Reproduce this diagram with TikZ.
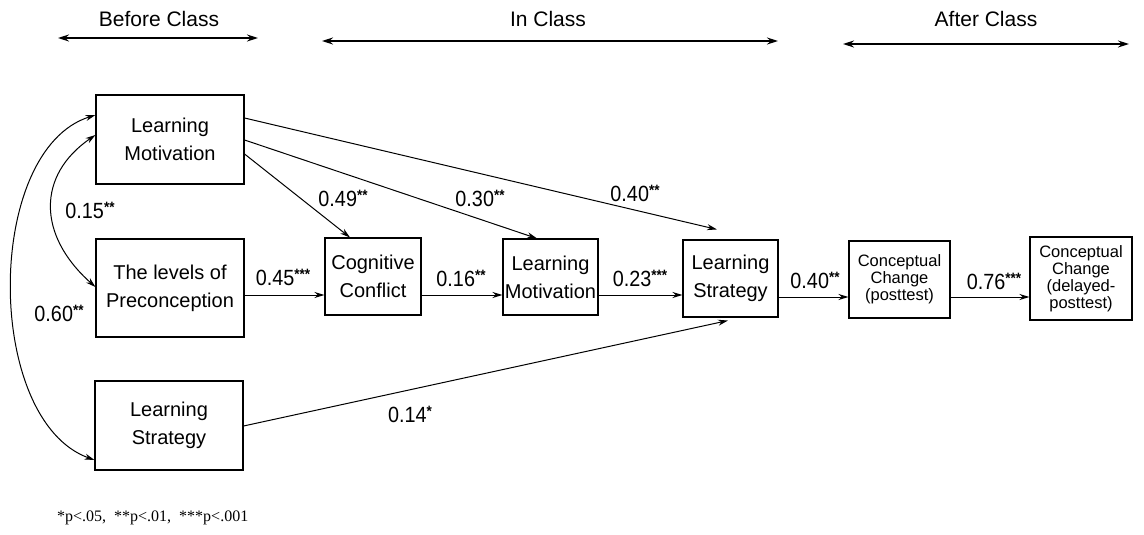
\documentclass[tikz,border=0pt]{standalone}
\usepackage{fontspec}
\setmainfont{Liberation Sans}
\newfontfamily\seriffont{Liberation Serif}
\newfontfamily\lblfont[FakeStretch=0.9]{Liberation Sans}
\newcommand{\stars}[1]{\raisebox{6pt}{\fontsize{15}{15}\selectfont\bfseries #1}}
\usetikzlibrary{arrows.meta,calc}
\begin{document}
\begin{tikzpicture}[x=1pt,y=-1pt,
  box/.style={draw, line width=1.1pt, align=center, inner sep=0pt, font=\fontsize{20}{28}\selectfont},
  sbox/.style={draw, line width=1.1pt, align=center, inner sep=0pt, font=\fontsize{16.5}{17}\selectfont},
  arr/.style={line width=1pt, -{Stealth[length=10pt,width=6pt]}},
  dbl/.style={line width=1pt, {Stealth[length=10pt,width=6pt]}-{Stealth[length=10pt,width=6pt]}},
  hdrarr/.style={line width=1.4pt, {Stealth[length=11pt,width=7pt]}-{Stealth[length=11pt,width=7pt]}},
  hdr/.style={font=\fontsize{21}{24}\selectfont, inner sep=0pt},
  lbl/.style={font=\lblfont\fontsize{22}{24}\selectfont, inner sep=0pt},
]
\useasboundingbox (0,0) rectangle (1144,535);

% headers
\node[hdr] (hb) at (159,19) {Before Class};
\node[hdr] (hi) at (548,19) {In Class};
\node[hdr] (ha) at (986,19) {After Class};
\coordinate (b1) at (58,38);  \coordinate (b2) at (258,38);
\coordinate (i1) at (322,41); \coordinate (i2) at (778,41);
\coordinate (a1) at (843,44); \coordinate (a2) at (1129,44);
\draw[hdrarr] (b1) -- (b2);
\draw[hdrarr] (i1) -- (i2);
\draw[hdrarr] (a1) -- (a2);

% boxes
\node[box, minimum width=148pt, minimum height=89pt] (LM1) at (170,139.5) {Learning\\Motivation};
\node[box, minimum width=148pt, minimum height=98pt] (PRE) at (170,288) {The levels of\\Preconception};
\node[box, minimum width=148pt, minimum height=89pt] (LS1) at (169,425.5) {Learning\\Strategy};
\node[box, minimum width=96pt, minimum height=77pt] (CC) at (373,276.5) {Cognitive\\Conflict};
\node[box, minimum width=95pt, minimum height=76pt] (LM2) at (550.5,277) {Learning\\Motivation};
\node[box, minimum width=95pt, minimum height=77pt] (LS2) at (730.5,278.5) {Learning\\Strategy};
\node[sbox, minimum width=101pt, minimum height=77pt] (CCP) at (899.5,279.5) {Conceptual\\Change\\(posttest)};
\node[sbox, minimum width=102pt, minimum height=83pt] (CCD) at (1081,278.5) {Conceptual\\Change\\(delayed-\\posttest)};

% horizontal path
\coordinate (row1) at (0,295);
\coordinate (row2) at (0,297);
\draw[arr] (PRE.east |- row1) -- (CC.west |- row1);
\draw[arr] (CC.east |- row1) -- (LM2.west |- row1);
\draw[arr] (LM2.east |- row1) -- (LS2.west |- row1);
\draw[arr] (LS2.east |- row2) -- (CCP.west |- row2);
\draw[arr] (CCP.east |- row2) -- (CCD.west |- row2);

% diagonal paths from LM1
\draw[arr] ([yshift=-14.5pt]LM1.east) -- ([xshift=-23pt]CC.north);
\draw[arr] ([yshift=-0.5pt]LM1.east) -- ([xshift=-13.5pt]LM2.north);
\draw[arr] ([yshift=21.5pt]LM1.east) -- ([xshift=-13.5pt,yshift=10pt]LS2.north);
% from LS1
\draw[arr] ([yshift=-0.5pt]LS1.east) -- ([xshift=-2.5pt,yshift=-3pt]LS2.south);

% correlations
\draw[dbl] ([yshift=4.5pt]LM1.west) .. controls (37,175) and (37,235) .. ([yshift=1pt]PRE.west);
\draw[dbl] ([yshift=24.5pt]LM1.west) .. controls (-16,150) and (-16,420) .. ([yshift=-34.5pt]LS1.west);

% labels
\node[lbl] (l15) at (90,210) {0.15\stars{**}};
\node[lbl] (l60) at (59,313) {0.60\stars{**}};
\node[lbl] (l49) at (343,198) {0.49\stars{**}};
\node[lbl] (l30) at (480,198) {0.30\stars{**}};
\node[lbl] (l40a) at (635,193) {0.40\stars{**}};
\node[lbl] (l45) at (283,277) {0.45\stars{***}};
\node[lbl] (l16) at (461,278) {0.16\stars{**}};
\node[lbl] (l23) at (640,278) {0.23\stars{***}};
\node[lbl] (l40b) at (815,280) {0.40\stars{**}};
\node[lbl] (l76) at (994,281) {0.76\stars{***}};
\node[lbl] (l14) at (410,414) {0.14\stars{*}};

% footnote
\node[font=\seriffont\fontsize{16}{18}\selectfont, inner sep=0pt, anchor=west] (fn) at (57,518) {*p<.05,\ \ **p<.01,\ \ ***p<.001};
\end{tikzpicture}
\end{document}
